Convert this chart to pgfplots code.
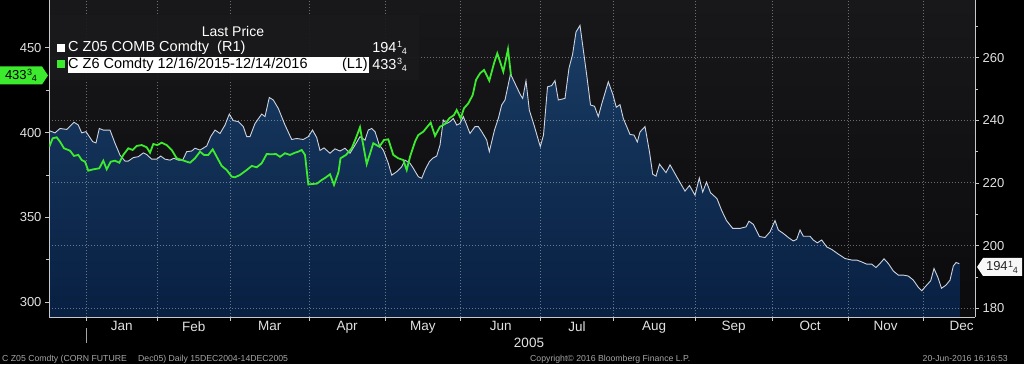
\documentclass[border=0pt]{standalone}
\usepackage{pgfplots}
\pgfplotsset{compat=1.18}
\usepackage{pgfplotstable}
\usepackage{fontspec}
\setmainfont{Liberation Sans}
\definecolor{bbgreen}{RGB}{60,235,45}
\definecolor{axisgray}{RGB}{200,200,200}
\definecolor{labelgray}{RGB}{225,225,225}
\definecolor{footgray}{RGB}{165,165,165}
\definecolor{areatop}{RGB}{26,60,100}
\definecolor{areabot}{RGB}{8,32,66}
\definecolor{bgtop}{RGB}{24,24,26}
\definecolor{bgbot}{RGB}{11,11,13}
\definecolor{linewhite}{RGB}{205,212,224}
\definecolor{legendbg}{RGB}{26,26,28}
\newcommand{\fr}[2]{\kern.04em\raisebox{.55ex}{\fontsize{9}{9}\selectfont#1}\kern-.02em\raisebox{-.3ex}{\fontsize{9}{9}\selectfont#2}}

% C Z05 COMB Comdty (R1), x = trading-day position, y = price (right axis)
\pgfplotstableread{
x y
49.3 236.7
55 236.0
60 237.4
66.7 237.1
74 239.4
78.3 238.5
81.7 236.0
86 236.4
92.7 233.2
96 232.8
99.3 237.4
103.3 236.9
110 236.9
115 232.7
120 228.9
125 227.0
128.3 227.0
133.3 228.1
138.3 228.4
143.3 229.6
146.7 229.1
151.7 227.6
156.7 227.6
160.7 228.6
165 227.6
170 227.3
174 227.9
178.3 227.3
182.7 227.3
186.7 230.0
191.7 230.2
195 231.1
200 230.5
206.7 231.8
210.7 234.8
215 236.9
220 235.8
225 238.5
229.3 242.0
233.3 239.9
238.3 239.6
243.3 238.0
246.7 234.8
250 234.8
255 239.0
261.7 242.0
265 241.2
269.3 247.3
273.3 246.5
278.3 243.8
285 238.5
291.7 233.9
296.7 234.2
303.3 233.9
308.3 234.8
312.5 236.9
316.7 234.5
320 230.4
324 231.2
330 229.5
335 230.9
340 230.2
345 231.1
350 229.5
355 232.1
360 234.8
365 233.7
368.3 236.9
371.7 237.4
375 236.4
379.3 232.1
383.3 230.5
388.3 226.3
391.7 222.5
396.7 223.6
401.7 225.2
405 227.3
410 226.3
413.3 224.7
418.3 222.0
421.7 221.5
425 224.1
429.3 226.8
432.7 227.9
436.7 228.6
440 232.1
443.3 240.1
446.7 239.0
450 239.6
453.3 240.6
456.7 238.5
460 239.0
463.3 241.2
466.7 238.5
470 235.8
475 238.0
478.3 238.0
481.7 236.4
486.7 233.7
489.3 230.0
494.5 236.9
498.3 240.6
501.7 244.9
505 246.5
510.5 254.8
514.5 252.1
520.5 248.1
522.7 247.0
526 252.6
529.3 243.3
534 238.5
540.3 231.6
543.5 235.3
547.5 250.7
551.7 251.1
555 252.7
558.3 246.5
565 247.0
569 256.7
572.5 260.9
576 268.2
580 270.3
583.3 262.5
586.7 254.5
590.5 244.9
594.5 244.5
598.3 241.2
601.7 245.2
608.3 252.3
612.7 248.4
616.3 244.2
620 245.0
623.3 240.6
630 235.5
634 235.3
637.3 233.1
640 236.3
645 238.0
649.5 229.9
652.7 222.8
656 222.2
659.5 226.0
666 223.3
670 225.8
676.7 222.0
685 217.4
689.5 219.2
695 216.1
699.3 221.6
702.7 217.1
706.5 220.3
710.5 216.9
717 215.0
721.7 211.2
726.5 208.0
732.7 205.5
740 205.5
746 206.0
749 207.8
753.3 206.8
759.5 202.9
765 202.6
770 204.4
775 208.0
778.3 205.0
783.3 203.9
788.3 202.6
793.3 201.5
796.7 202.0
800 205.0
803.3 203.0
810 203.0
813.3 201.8
817.3 200.9
821.7 201.8
826.7 199.6
831.7 198.8
838.3 197.3
845 195.9
851.7 195.4
856.7 195.4
861.7 194.8
866.7 194.1
871.7 194.1
876 193.0
880 194.3
884 195.8
888.3 194.3
893.3 191.9
898.3 190.6
903.3 190.6
908.3 190.3
913.3 189.0
918.3 186.7
921.7 185.6
926.7 187.4
930.7 188.8
934 192.7
937.7 190.0
941.5 186.4
946 187.4
950 189.0
953.3 193.5
956 194.6
959.3 194.25
}\whitedata

% C Z6 Comdty (L1), left axis
\pgfplotstableread{
x y
49.3 391.7
52.7 396.7
56.7 397.3
60 394.7
64 390.8
70 389.4
74 386.3
78.3 386.9
81.7 383.9
85 382.9
88.3 377.6
93.3 378.4
99.3 379.0
103.3 383.5
106.7 378.4
110.7 382.9
115 383.5
119.3 382.3
123.3 386.9
128.3 390.8
132.7 389.8
136.7 392.2
141.7 392.7
146.7 391.4
150 388.2
153.3 393.3
157.3 392.7
161.7 394.1
166.7 392.7
171.7 389.8
176.7 384.9
181.7 383.9
190 382.3
195 384.9
200 388.8
204 386.9
208.3 386.9
212.7 390.2
216.7 385.8
221.7 380.4
226.7 378.0
231.7 374.1
235 373.7
240 375.1
246.7 378.0
251.7 380.4
256.7 379.6
261.7 382.0
266.7 387.4
271.7 387.3
276 387.4
280 385.8
285 387.9
290 386.9
295 388.2
298.3 388.8
301.7 389.8
305 386.9
308.3 369.5
313.3 369.8
317 370.0
321.7 372.1
326 373.7
330 375.5
334 369.2
338.5 376.8
340.5 384.9
346 386.9
351.7 390.8
356 396.9
360 403.2
366.7 381.5
373.3 393.8
379.3 391.7
384 395.7
388.3 396.1
393.3 386.9
398.3 384.9
403.3 383.9
406.7 378.0
410 385.8
415 394.7
418.3 398.6
423.3 400.6
427.3 403.5
430.7 405.9
435 398.1
440 403.5
445 405.1
449.3 408.5
454 410.4
456.7 413.4
460.7 408.5
464 414.4
468.3 417.3
472.7 422.2
476 431.1
480 435.0
484 437.0
489.3 430.7
494 440.9
497.3 446.8
503.3 436.0
508 449.2
511 433.75
}\greendata

\begin{document}
\begin{tikzpicture}
\fill[black] (0pt,0pt) rectangle (1024pt,364pt);

% Right axis (R1) with grid and area
\begin{axis}[
  at={(49pt,47pt)}, anchor=south west,
  scale only axis, width=926pt, height=317pt,
  xmin=49, xmax=975, ymin=177.22, ymax=278.42,
  axis on top,
  axis y line*=right, axis x line*=bottom,
  axis line style={draw=axisgray, line width=0.8pt, -},
  xtick={86,157.3,230,309.3,385,460.7,540.7,613.3,695,772.3,848,923.3},
  xticklabels={},
  extra x ticks={121.7,193.7,269.7,347.2,422.9,500.7,577,654.2,733.7,810.2,885.7,961.5},
  extra x tick labels={Jan,Feb,Mar,Apr,May,Jun,Jul,Aug,Sep,Oct,Nov,Dec},
  extra x tick style={major tick length=0pt, grid=none,
    tick label style={font=\fontsize{13.5}{14}\selectfont, yshift=-1pt}},
  ytick={180,200,220,240,260},
  minor ytick={190,210,230,250,270},
  tick align=outside,
  major tick length=4pt, minor tick length=3pt,
  tick style={draw=axisgray, line width=0.8pt},
  xmajorgrids, ymajorgrids,
  grid style={dash pattern=on 1.2pt off 1.8pt, draw=white, draw opacity=0.38, line width=1pt},
  ticklabel style={text=labelgray, font=\fontsize{13}{14}\selectfont},
  /pgf/number format/assume math mode=true,
  axis background/.style={top color=bgtop, bottom color=bgbot},
]
\addplot[draw=none, top color=areatop, bottom color=areabot] table[x=x,y=y] {\whitedata}
  -- (axis cs:959.3,177.22) -- (axis cs:49.3,177.22) -- cycle;
\addplot[draw=linewhite, line width=0.9pt, mark=none] table[x=x,y=y] {\whitedata};
\end{axis}

% Left axis (L1)
\begin{axis}[
  at={(49pt,47pt)}, anchor=south west,
  scale only axis, width=926pt, height=317pt,
  xmin=49, xmax=975, ymin=291.33, ymax=478.24,
  axis y line*=left, axis x line=none,
  axis line style={draw=axisgray, line width=0.8pt, -},
  ytick={300,350,400,450},
  minor ytick={325,375,425},
  tick align=outside,
  major tick length=4pt, minor tick length=3pt,
  tick style={draw=axisgray, line width=0.8pt},
  ticklabel style={text=labelgray, font=\fontsize{13}{14}\selectfont},
  /pgf/number format/assume math mode=true,
]
\addplot[draw=bbgreen, line width=1.8pt, mark=none] table[x=x,y=y] {\greendata};
\end{axis}

\begin{scope}[x=1pt,y=1pt]
% year separator and labels below the axis
\draw[draw=footgray, line width=0.8pt] (86,36) -- (86,21);
\node[text=labelgray, font=\fontsize{13.5}{14}\selectfont] at (529,21.5) {2005};
\node[anchor=west, text=footgray, font=\fontsize{8.7}{9}\selectfont, inner sep=1pt] at (1,5) {C Z05 Comdty (CORN FUTURE};
\node[anchor=west, text=footgray, font=\fontsize{8.7}{9}\selectfont, inner sep=1pt] at (137,5) {Dec05) Daily 15DEC2004-14DEC2005};
\node[anchor=west, text=footgray, font=\fontsize{8.7}{9}\selectfont, inner sep=1pt] at (529,5) {Copyright\textcopyright{} 2016 Bloomberg Finance L.P.};
\node[anchor=east, text=footgray, font=\fontsize{8.7}{9}\selectfont, inner sep=1pt] at (1009,5) {20-Jun-2016 16:16:53};

% legend
\fill[legendbg, opacity=0.93] (50,284) rectangle (419,349);
\node[text=white, font=\fontsize{14}{15}\selectfont] at (233,332) {Last Price};
\fill[white] (57,312) rectangle (65,320);
\node[anchor=west, inner sep=2pt, text=white, font=\fontsize{14.5}{15}\selectfont] at (66,316) {C Z05 COMB Comdty\ \ (R1)};
\node[anchor=east, inner sep=1pt, text=white, font=\fontsize{14.5}{15}\selectfont] at (408,316) {194\fr14};
\fill[bbgreen] (57,296) rectangle (65,304);
\fill[white] (67.7,290.7) rectangle (369.3,307.3);
\node[anchor=west, inner sep=2pt, text=black, font=\fontsize{14.5}{15}\selectfont] at (66,299) {C Z6 Comdty 12/16/2015-12/14/2016};
\node[anchor=east, inner sep=1pt, text=black, font=\fontsize{14.5}{15}\selectfont] at (369,299) {(L1)};
\node[anchor=east, inner sep=1pt, text=white, font=\fontsize{14.5}{15}\selectfont] at (408,299) {433\fr34};

% axis value tags
\fill[bbgreen] (0,297.5) -- (42,297.5) -- (48,288.5) -- (42,279.5) -- (0,279.5) -- cycle;
\node[text=black, font=\fontsize{13}{14}\selectfont] at (21,288.5) {433\fr34};
\fill[white!94!gray] (977,97) -- (983,106) -- (1022,106) -- (1022,88) -- (983,88) -- cycle;
\node[text=black!85, font=\fontsize{13}{14}\selectfont] at (1002,97) {194\fr14};
\end{scope}

\pgfresetboundingbox
\path (0pt,0pt) rectangle (1024pt,364pt);
\end{tikzpicture}
\end{document}
